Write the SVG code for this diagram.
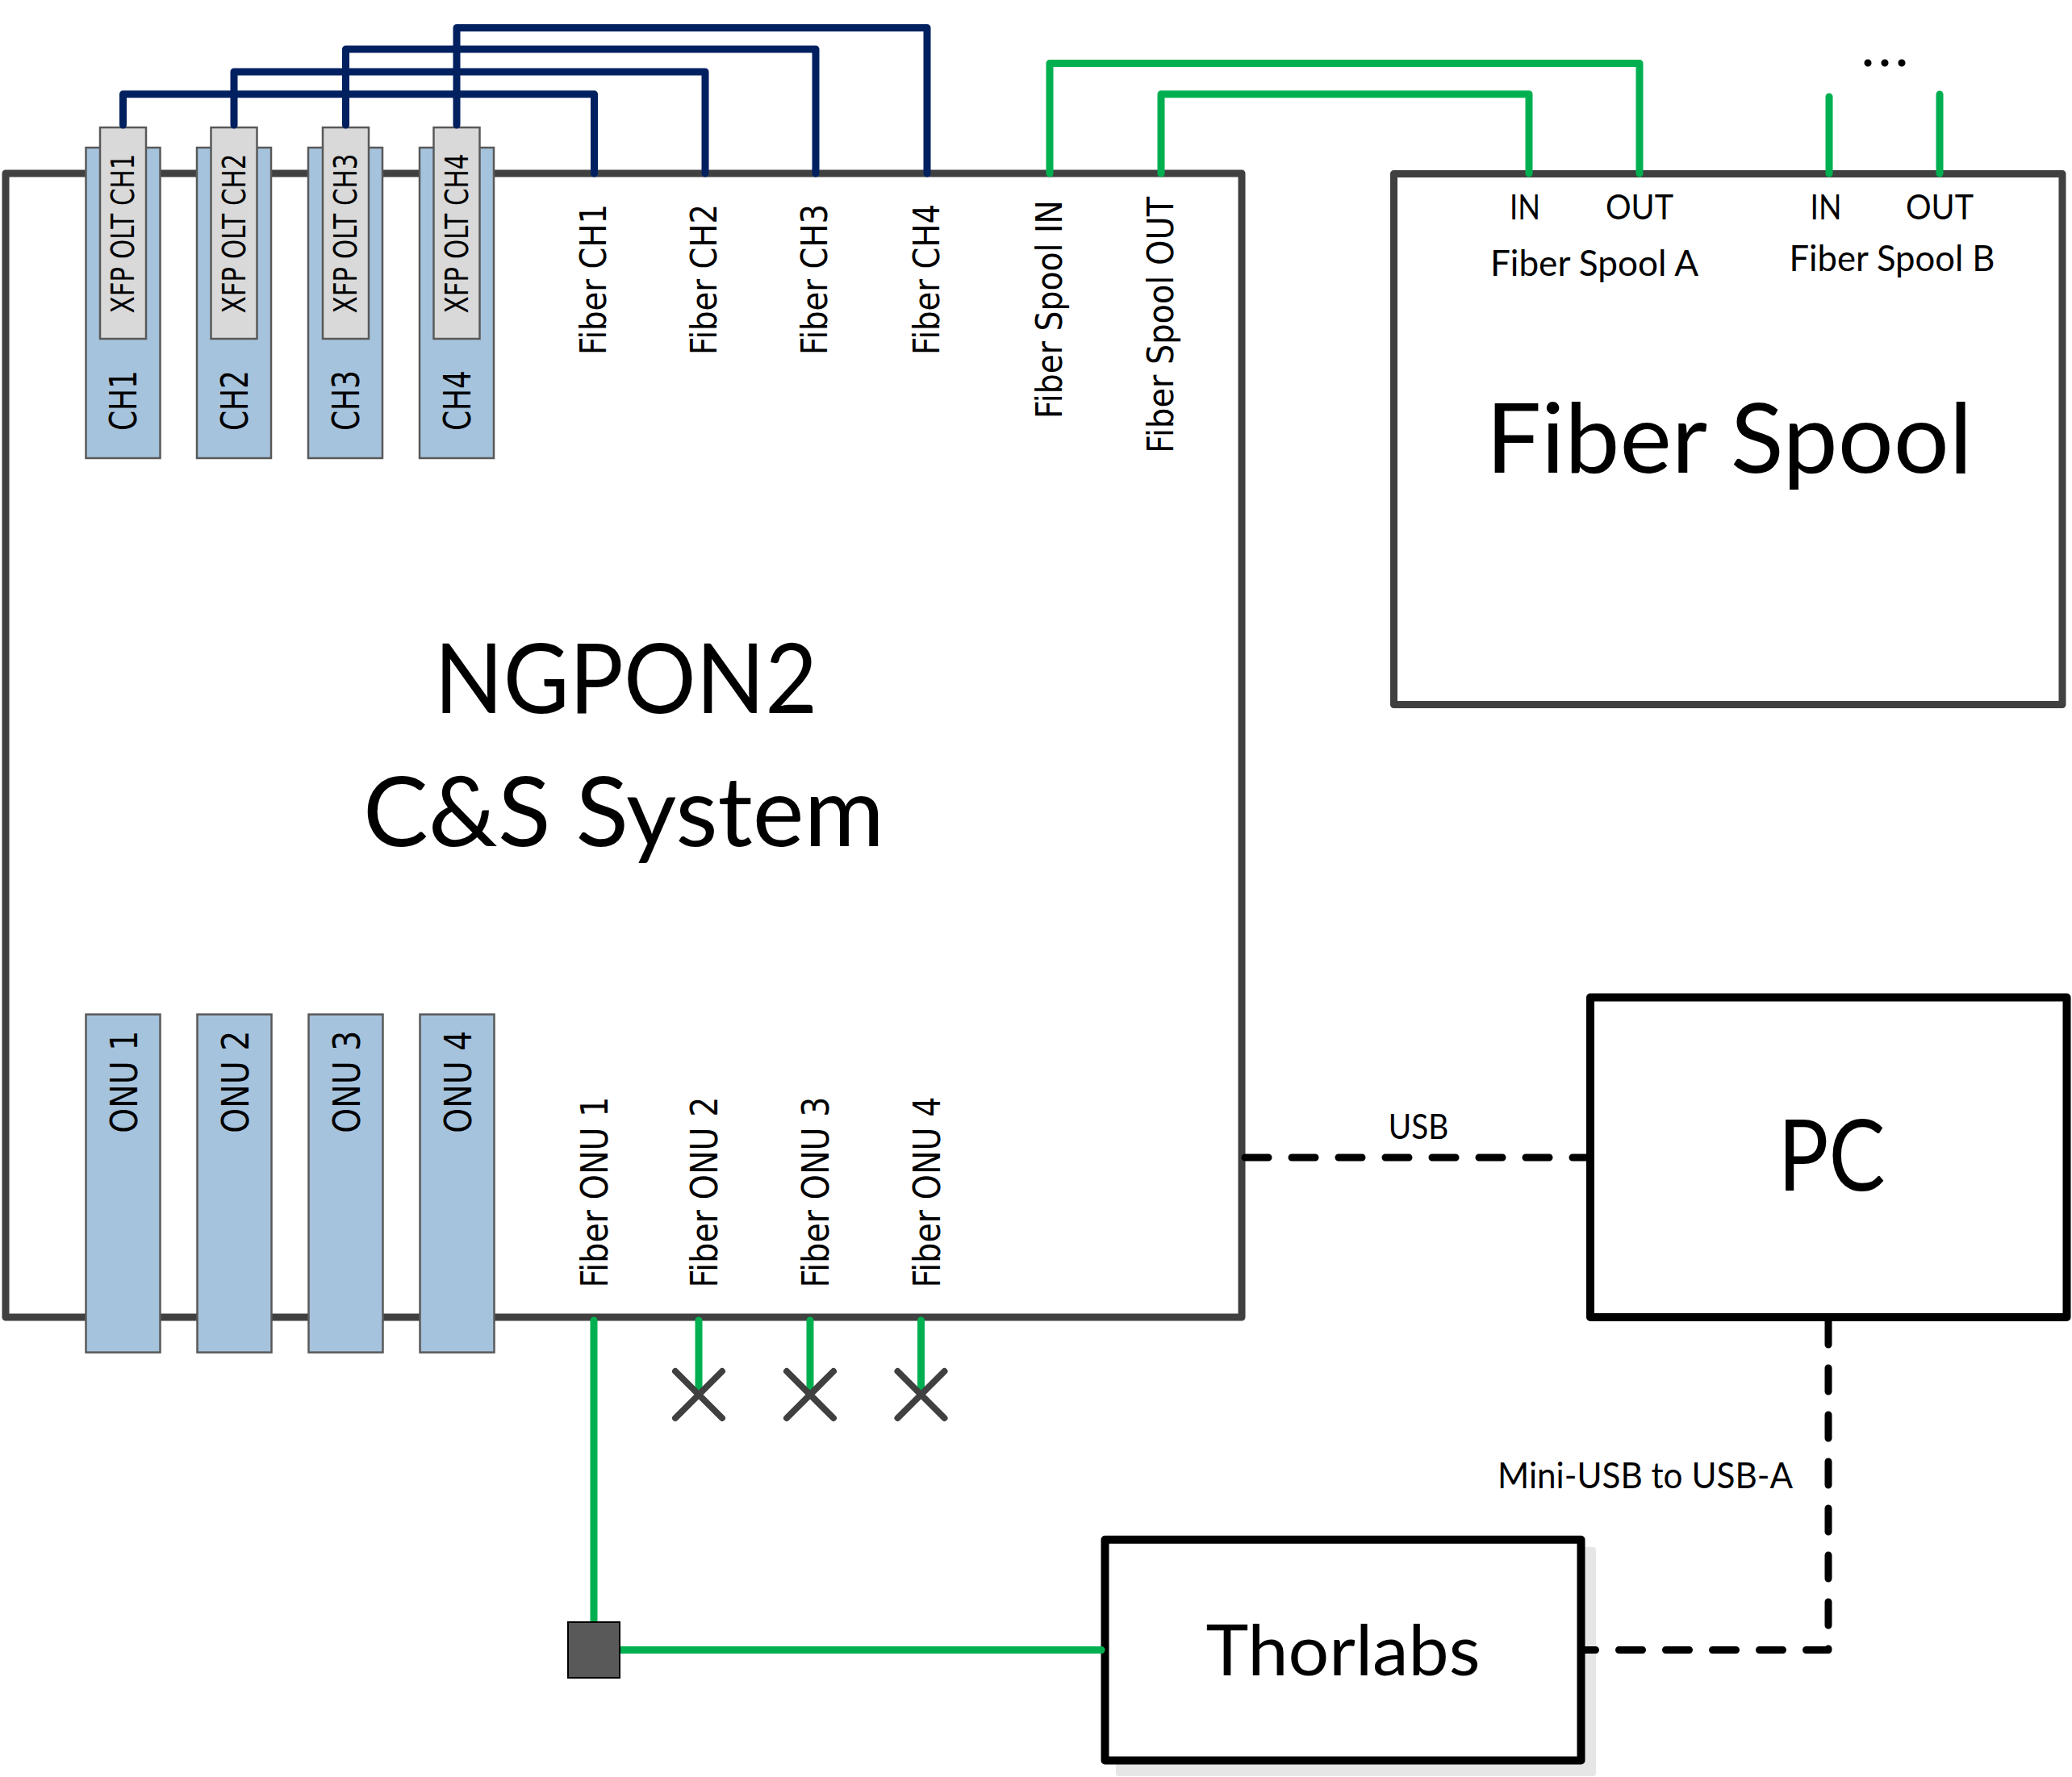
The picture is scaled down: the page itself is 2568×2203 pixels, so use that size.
<svg xmlns="http://www.w3.org/2000/svg" width="2568" height="2203" viewBox="0 0 2568 2203">
<style>
.frame{fill:#fff;stroke:#404040;stroke-width:9;stroke-linejoin:round}
.blk{fill:#fff;stroke:#000;stroke-width:10;stroke-linejoin:round}
.blue{fill:#A6C3DD;stroke:#595959;stroke-width:2.5}
.gray{fill:#D9D9D9;stroke:#595959;stroke-width:2.5}
.navy{fill:none;stroke:#002060;stroke-width:9;stroke-linejoin:round;stroke-linecap:round}
.grn{fill:none;stroke:#00B050;stroke-width:9;stroke-linejoin:round;stroke-linecap:round}
.dash{fill:none;stroke:#000;stroke-width:9;stroke-dasharray:29 29;stroke-linecap:round;stroke-linejoin:round}
.xm{fill:none;stroke:#404040;stroke-width:8;stroke-linecap:round}
.dv{font-family:"DejaVu Sans",Verdana,sans-serif;fill:#000}
.lt{font-family:Lato,"Open Sans",sans-serif;fill:#000;text-anchor:middle}
</style>

<g id="ngpon2">
  <rect class="frame" x="7" y="215" width="1532" height="1418"/>
  <text class="lt" x="775.7" y="884" font-size="120" textLength="475" lengthAdjust="spacingAndGlyphs">NGPON2</text>
  <text class="lt" x="773" y="1049" font-size="120" textLength="646" lengthAdjust="spacingAndGlyphs">C&amp;S System</text>
</g>

<g id="olt-ch1">
  <rect class="blue" x="106.5" y="183" width="92" height="385"/>
  <rect class="gray" x="124" y="158" width="57" height="262"/>
  <text class="dv" font-size="39" transform="translate(166,388.5) rotate(-90)" textLength="198" lengthAdjust="spacingAndGlyphs">XFP OLT CH1</text>
  <text class="dv" font-size="46" transform="translate(169,534) rotate(-90)" textLength="75" lengthAdjust="spacingAndGlyphs">CH1</text>
</g>
<g id="olt-ch2">
  <rect class="blue" x="244" y="183" width="92" height="385"/>
  <rect class="gray" x="261.5" y="158" width="57" height="262"/>
  <text class="dv" font-size="39" transform="translate(304,388.5) rotate(-90)" textLength="198" lengthAdjust="spacingAndGlyphs">XFP OLT CH2</text>
  <text class="dv" font-size="46" transform="translate(306.5,534) rotate(-90)" textLength="75" lengthAdjust="spacingAndGlyphs">CH2</text>
</g>
<g id="olt-ch3">
  <rect class="blue" x="382" y="183" width="92" height="385"/>
  <rect class="gray" x="400" y="158" width="57" height="262"/>
  <text class="dv" font-size="39" transform="translate(442,388.5) rotate(-90)" textLength="198" lengthAdjust="spacingAndGlyphs">XFP OLT CH3</text>
  <text class="dv" font-size="46" transform="translate(444.5,534) rotate(-90)" textLength="75" lengthAdjust="spacingAndGlyphs">CH3</text>
</g>
<g id="olt-ch4">
  <rect class="blue" x="520" y="183" width="92" height="385"/>
  <rect class="gray" x="537.5" y="158" width="57" height="262"/>
  <text class="dv" font-size="39" transform="translate(580,388.5) rotate(-90)" textLength="198" lengthAdjust="spacingAndGlyphs">XFP OLT CH4</text>
  <text class="dv" font-size="46" transform="translate(582.5,534) rotate(-90)" textLength="75" lengthAdjust="spacingAndGlyphs">CH4</text>
</g>

<g id="fiber-ports">
  <text class="dv" font-size="44" transform="translate(750.6,440) rotate(-90)" textLength="187" lengthAdjust="spacingAndGlyphs">Fiber CH1</text>
  <text class="dv" font-size="44" transform="translate(888,440) rotate(-90)" textLength="187" lengthAdjust="spacingAndGlyphs">Fiber CH2</text>
  <text class="dv" font-size="44" transform="translate(1025,440) rotate(-90)" textLength="187" lengthAdjust="spacingAndGlyphs">Fiber CH3</text>
  <text class="dv" font-size="44" transform="translate(1164,440) rotate(-90)" textLength="187" lengthAdjust="spacingAndGlyphs">Fiber CH4</text>
  <text class="dv" font-size="44" transform="translate(1315.5,519) rotate(-90)" textLength="271" lengthAdjust="spacingAndGlyphs">Fiber Spool IN</text>
  <text class="dv" font-size="44" transform="translate(1454,562) rotate(-90)" textLength="318" lengthAdjust="spacingAndGlyphs">Fiber Spool OUT</text>
  <text class="dv" font-size="47" transform="translate(753,1596.6) rotate(-90)" textLength="237" lengthAdjust="spacingAndGlyphs">Fiber ONU 1</text>
  <text class="dv" font-size="47" transform="translate(889,1596.6) rotate(-90)" textLength="237" lengthAdjust="spacingAndGlyphs">Fiber ONU 2</text>
  <text class="dv" font-size="47" transform="translate(1026.6,1596.6) rotate(-90)" textLength="237" lengthAdjust="spacingAndGlyphs">Fiber ONU 3</text>
  <text class="dv" font-size="47" transform="translate(1165,1596.6) rotate(-90)" textLength="237" lengthAdjust="spacingAndGlyphs">Fiber ONU 4</text>
</g>

<g id="onu1">
  <rect class="blue" x="106.5" y="1257.6" width="92" height="419"/>
  <text class="dv" font-size="47" transform="translate(169.5,1404.7) rotate(-90)" textLength="127" lengthAdjust="spacingAndGlyphs">ONU 1</text>
</g>
<g id="onu2">
  <rect class="blue" x="244.5" y="1257.6" width="92" height="419"/>
  <text class="dv" font-size="47" transform="translate(307.5,1404.7) rotate(-90)" textLength="127" lengthAdjust="spacingAndGlyphs">ONU 2</text>
</g>
<g id="onu3">
  <rect class="blue" x="382.5" y="1257.6" width="92" height="419"/>
  <text class="dv" font-size="47" transform="translate(445.5,1404.7) rotate(-90)" textLength="127" lengthAdjust="spacingAndGlyphs">ONU 3</text>
</g>
<g id="onu4">
  <rect class="blue" x="520.5" y="1257.6" width="92" height="419"/>
  <text class="dv" font-size="47" transform="translate(583.5,1404.7) rotate(-90)" textLength="127" lengthAdjust="spacingAndGlyphs">ONU 4</text>
</g>

<g id="fiber-spool">
  <rect class="frame" x="1727.5" y="215.5" width="828.5" height="658" stroke-width="8.5"/>
  <text class="lt" x="1890" y="272" font-size="43" textLength="38" lengthAdjust="spacingAndGlyphs">IN</text>
  <text class="lt" x="2032" y="272" font-size="43" textLength="84" lengthAdjust="spacingAndGlyphs">OUT</text>
  <text class="lt" x="2263" y="272" font-size="43" textLength="39" lengthAdjust="spacingAndGlyphs">IN</text>
  <text class="lt" x="2404" y="272" font-size="43" textLength="84" lengthAdjust="spacingAndGlyphs">OUT</text>
  <text class="lt" x="1976" y="342" font-size="45" textLength="258" lengthAdjust="spacingAndGlyphs">Fiber Spool A</text>
  <text class="lt" x="2345" y="336" font-size="45" textLength="255" lengthAdjust="spacingAndGlyphs">Fiber Spool B</text>
  <text class="lt" x="2143" y="585.6" font-size="120" textLength="603" lengthAdjust="spacingAndGlyphs">Fiber Spool</text>
</g>

<g id="more">
  <text class="lt" x="2336" y="82" font-size="72" textLength="59" lengthAdjust="spacing">...</text>
</g>

<g id="pc">
  <rect class="blk" x="1971" y="1236.5" width="590.5" height="396.5"/>
  <text class="lt" x="2270" y="1476.4" font-size="122" textLength="133" lengthAdjust="spacingAndGlyphs">PC</text>
</g>

<g id="thorlabs">
  <rect x="1383" y="1918" width="595" height="284" rx="4" fill="#E6E6E6"/>
  <rect class="blk" x="1369.5" y="1908.7" width="590" height="273.8"/>
  <text class="lt" x="1664.5" y="2077" font-size="88" textLength="340" lengthAdjust="spacingAndGlyphs">Thorlabs</text>
</g>

<g id="connectors">
  <path class="navy" d="M152.5,155 V116.7 H736.5 V215"/>
  <path class="navy" d="M290,155 V89 H874 V215"/>
  <path class="navy" d="M428.5,155 V61 H1011 V215"/>
  <path class="navy" d="M566,155 V34.4 H1149 V215"/>
  <path class="grn" d="M1301,215 V78.5 H2032 V215"/>
  <path class="grn" d="M1439,215 V116.7 H1895 V215"/>
  <path class="grn" d="M2267,120 V215"/>
  <path class="grn" d="M2404,117 V215"/>
  <path class="grn" d="M736,1637 V2045.5 H1365"/>
  <path class="grn" d="M866,1637 V1729"/>
  <path class="grn" d="M1004,1637 V1729"/>
  <path class="grn" d="M1141.5,1637 V1729"/>
  <path class="dash" d="M1543,1435 H1967"/>
  <path class="dash" d="M2266,1638 V2045.5 H1964"/>
  <text class="lt" x="1758" y="1412" font-size="43" textLength="74.5" lengthAdjust="spacingAndGlyphs">USB</text>
  <text class="lt" x="2039" y="1845" font-size="45" textLength="366" lengthAdjust="spacingAndGlyphs">Mini-USB to USB-A</text>
</g>

<g id="unused-ends">
  <path class="xm" d="M837,1700 L895,1758 M837,1758 L895,1700"/>
  <path class="xm" d="M975,1700 L1033,1758 M975,1758 L1033,1700"/>
  <path class="xm" d="M1112.5,1700 L1170.5,1758 M1112.5,1758 L1170.5,1700"/>
</g>

<g id="splitter">
  <rect x="704" y="2011" width="64" height="69" fill="#595959" stroke="#000" stroke-width="2"/>
</g>
</svg>
